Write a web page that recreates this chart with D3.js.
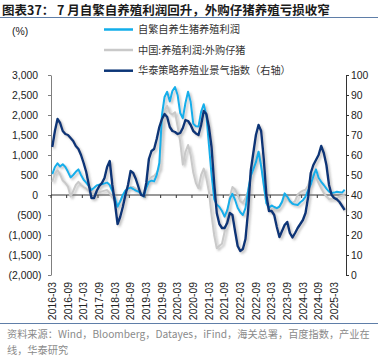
<!DOCTYPE html>
<html><head><meta charset="utf-8">
<script src="https://cdn.jsdelivr.net/npm/d3@7"></script>
<style>body{margin:0;background:#fff}svg{display:block}</style>
</head><body><svg id="c" width="383" height="357"></svg>
<script>
// 自繁自养生猪养殖利润 (元/头, left axis)
const selfBred = [520,700,790,710,770,700,580,440,500,580,640,500,380,310,220,125,180,240,260,270,290,310,250,100,-80,-290,-160,0,110,160,185,150,110,85,30,-40,180,330,360,340,500,800,2000,2450,2580,2340,2600,2700,2500,2050,1920,2300,2580,2330,1780,1720,1710,2080,2270,2000,1250,500,-100,-240,-300,-400,-540,-380,-100,30,-120,-320,-430,-500,-330,100,480,640,820,1080,720,260,-200,-320,-260,-300,-330,-290,-170,40,-40,-150,-220,-240,-250,-180,-130,-40,120,260,470,640,430,330,250,160,85,50,60,80,70,60,130];
// 中国:养殖利润:外购仔猪 (left axis)
const purchased = [330,540,620,510,360,300,210,-40,100,250,330,250,200,160,90,20,30,50,70,90,110,125,40,-60,-150,-290,-170,-60,90,170,200,200,150,110,60,20,250,380,450,480,560,660,1580,2120,2230,2050,2010,2070,1720,1330,760,1080,1250,1000,560,300,170,500,660,420,80,-500,-1000,-1330,-1270,-1220,-920,-600,-50,200,140,0,-160,-200,-80,100,420,700,950,1080,790,250,-200,-370,-340,-350,-370,-300,-200,-50,-90,-180,-200,-150,10,70,110,130,240,440,540,440,300,170,50,-40,-100,-95,-85,-70,-45,-20,0];
// 华泰策略养殖业景气指数 (right axis)
const indexVals = [64,72,78,76,72,70.5,70,68.5,67,64.5,63,60,56,51.5,45,38.5,38.5,42,44.5,46,48.5,54,57,45,36,25.5,29,34,40,45,52,51,48,44,40,39.5,46,58,62,63,68,74,78,80.5,79,74,72,71.5,70.5,71,73.5,77.5,77,75,72,70.8,70,75,82,80.5,74,64,46,31,25.5,23.5,23.5,26,31,30,22,14.5,12,13,18,32,52,61,70,75,72,58,40,32,32,30,24,19,22,25,26.5,21,18.8,21,23.5,25.5,27.5,31,39,51,55,57.5,60,64.5,61,55,45,40,38.5,37.8,36.5,34.5,32.5];
const xTickLabels = ["2016-03","2016-09","2017-03","2017-09","2018-03","2018-09","2019-03","2019-09","2020-03","2020-09","2021-03","2021-09","2022-03","2022-09","2023-03","2023-09","2024-03","2024-09","2025-03"];
const leftTicks = [3000,2500,2000,1500,1000,500,0,-500,-1000,-1500,-2000];
const rightTicks = [100,90,80,70,60,50,40,30,20,10,0];
const seriesNames = ["自繁自养生猪养殖利润","中国:养殖利润:外购仔猪","华泰策略养殖业景气指数（右轴）"];
const colors = ["#12AEEA","#C9C9C9","#0B3577"];

const fmtMonth = d3.timeFormat("%Y-%m");
const months = d3.timeMonth.range(new Date(2016,2,1), new Date(2025,7,1)).map(fmtMonth);

const svg = d3.select("#c");
const L = 51, R = 346, T = 75, B = 275;
const num = "'Liberation Sans', Arial, sans-serif";
const cjk = "'Noto Sans CJK SC', 'Liberation Sans', sans-serif";

const defs = svg.append("defs");
const f = defs.append("filter").attr("id","sh").attr("x","-5%").attr("y","-5%").attr("width","110%").attr("height","110%");
f.append("feDropShadow").attr("dx",1.8).attr("dy",1.8).attr("stdDeviation",1.2).attr("flood-color","#777").attr("flood-opacity",0.45);

// Title
svg.append("text").attr("x",2).attr("y",14.5).attr("font-family",cjk).attr("font-weight","bold")
  .attr("font-size",12.5).attr("fill","#1a1a1a").style("white-space","pre")
  .text("图表37： 7 月自繁自养殖利润回升，外购仔猪养殖亏损收窄");
svg.append("line").attr("x1",0).attr("x2",378).attr("y1",17.5).attr("y2",17.5).attr("stroke","#5F7EA8").attr("stroke-width",1);

// Unit
svg.append("text").attr("x",12).attr("y",35).attr("font-family",num).attr("font-size",10.4).attr("fill","#222").text("(%)");

// Scales
const x = d3.scaleBand().domain(months).range([L,R]).padding(0);
const bw = x.bandwidth();
const yL = d3.scaleLinear().domain([-2000,3000]).range([B,T]);
const yR = d3.scaleLinear().domain([0,100]).range([B,T]);

// Left axis
const gL = svg.append("g").attr("transform",`translate(${L},0)`)
  .call(d3.axisLeft(yL).tickValues(leftTicks).tickSize(3).tickSizeOuter(0).tickFormat(d => ""));
gL.select(".domain").attr("stroke","#7f7f7f");
gL.selectAll(".tick line").attr("stroke","#7f7f7f");
svg.append("g").selectAll("text").data(leftTicks).join("text")
  .attr("x", d => d < 0 ? 41.5 : 38).attr("y", d => yL(d) + 3.7)
  .attr("text-anchor","end").attr("font-family",num).attr("font-size",10.4).attr("fill","#222")
  .text(d => d < 0 ? "(" + d3.format(",")(-d) + ")" : d3.format(",")(d));

// Right axis
const gR = svg.append("g").attr("transform",`translate(${R},0)`)
  .call(d3.axisRight(yR).tickValues(rightTicks).tickSize(3).tickSizeOuter(0).tickFormat(d3.format("d")).tickPadding(2));
gR.select(".domain").attr("stroke","#333");
gR.selectAll(".tick line").attr("stroke","#333");
gR.selectAll(".tick text").attr("font-family",num).attr("font-size",10.4).attr("fill","#222");

// Zero line with ticks
const tickMonths = xTickLabels;
svg.append("line").attr("x1",L).attr("x2",R).attr("y1",yL(0)).attr("y2",yL(0)).attr("stroke","#333").attr("stroke-width",1);
svg.append("g").selectAll("line").data(tickMonths).join("line")
  .attr("x1", d => x(d)).attr("x2", d => x(d)).attr("y1", yL(0)).attr("y2", yL(0)+3).attr("stroke","#333");

// X labels
svg.append("g").selectAll("text").data(xTickLabels).join("text")
  .attr("transform", d => `translate(${x(d)+bw/2+3.7},282) rotate(-90)`)
  .attr("text-anchor","end").attr("font-family",num).attr("font-size",10.4).attr("fill","#222")
  .text(d => d);

// Lines
const lineL = d3.line().x((d,i) => x(months[i]) + bw/2).y(d => yL(d));
const lineR = d3.line().x((d,i) => x(months[i]) + bw/2).y(d => yR(d));
const lg = svg.append("g").attr("filter","url(#sh)");
lg.append("path").attr("d", lineL(purchased)).attr("fill","none").attr("stroke",colors[1]).attr("stroke-width",2).attr("stroke-linejoin","round");
lg.append("path").attr("d", lineL(selfBred)).attr("fill","none").attr("stroke",colors[0]).attr("stroke-width",2).attr("stroke-linejoin","round");
lg.append("path").attr("d", lineR(indexVals)).attr("fill","none").attr("stroke",colors[2]).attr("stroke-width",2.4).attr("stroke-linejoin","round");

// Legend
const legY = [29.5, 50, 70.7];
const leg = svg.append("g").selectAll("g").data(seriesNames).join("g");
leg.append("line").attr("x1",104).attr("x2",133).attr("y1",(d,i)=>legY[i]).attr("y2",(d,i)=>legY[i])
  .attr("stroke",(d,i)=>colors[i]).attr("stroke-width",2.5);
leg.append("text").attr("x",138).attr("y",(d,i)=>legY[i]+3.6).attr("font-family",cjk).attr("font-size",10.2).attr("fill","#333").text(d=>d);

// Footer
svg.append("line").attr("x1",0).attr("x2",378).attr("y1",323.5).attr("y2",323.5).attr("stroke","#5F7EA8").attr("stroke-width",1);
const foot = ["资料来源：Wind，Bloomberg，Datayes，iFind，海关总署，百度指数，产业在","线，华泰研究"];
svg.append("g").selectAll("text").data(foot).join("text")
  .attr("x",7).attr("y",(d,i)=>337.5+i*16.5).attr("font-family",cjk).attr("font-size",10.2).attr("fill","#8a8a8a").text(d=>d);
</script>
</body></html>
